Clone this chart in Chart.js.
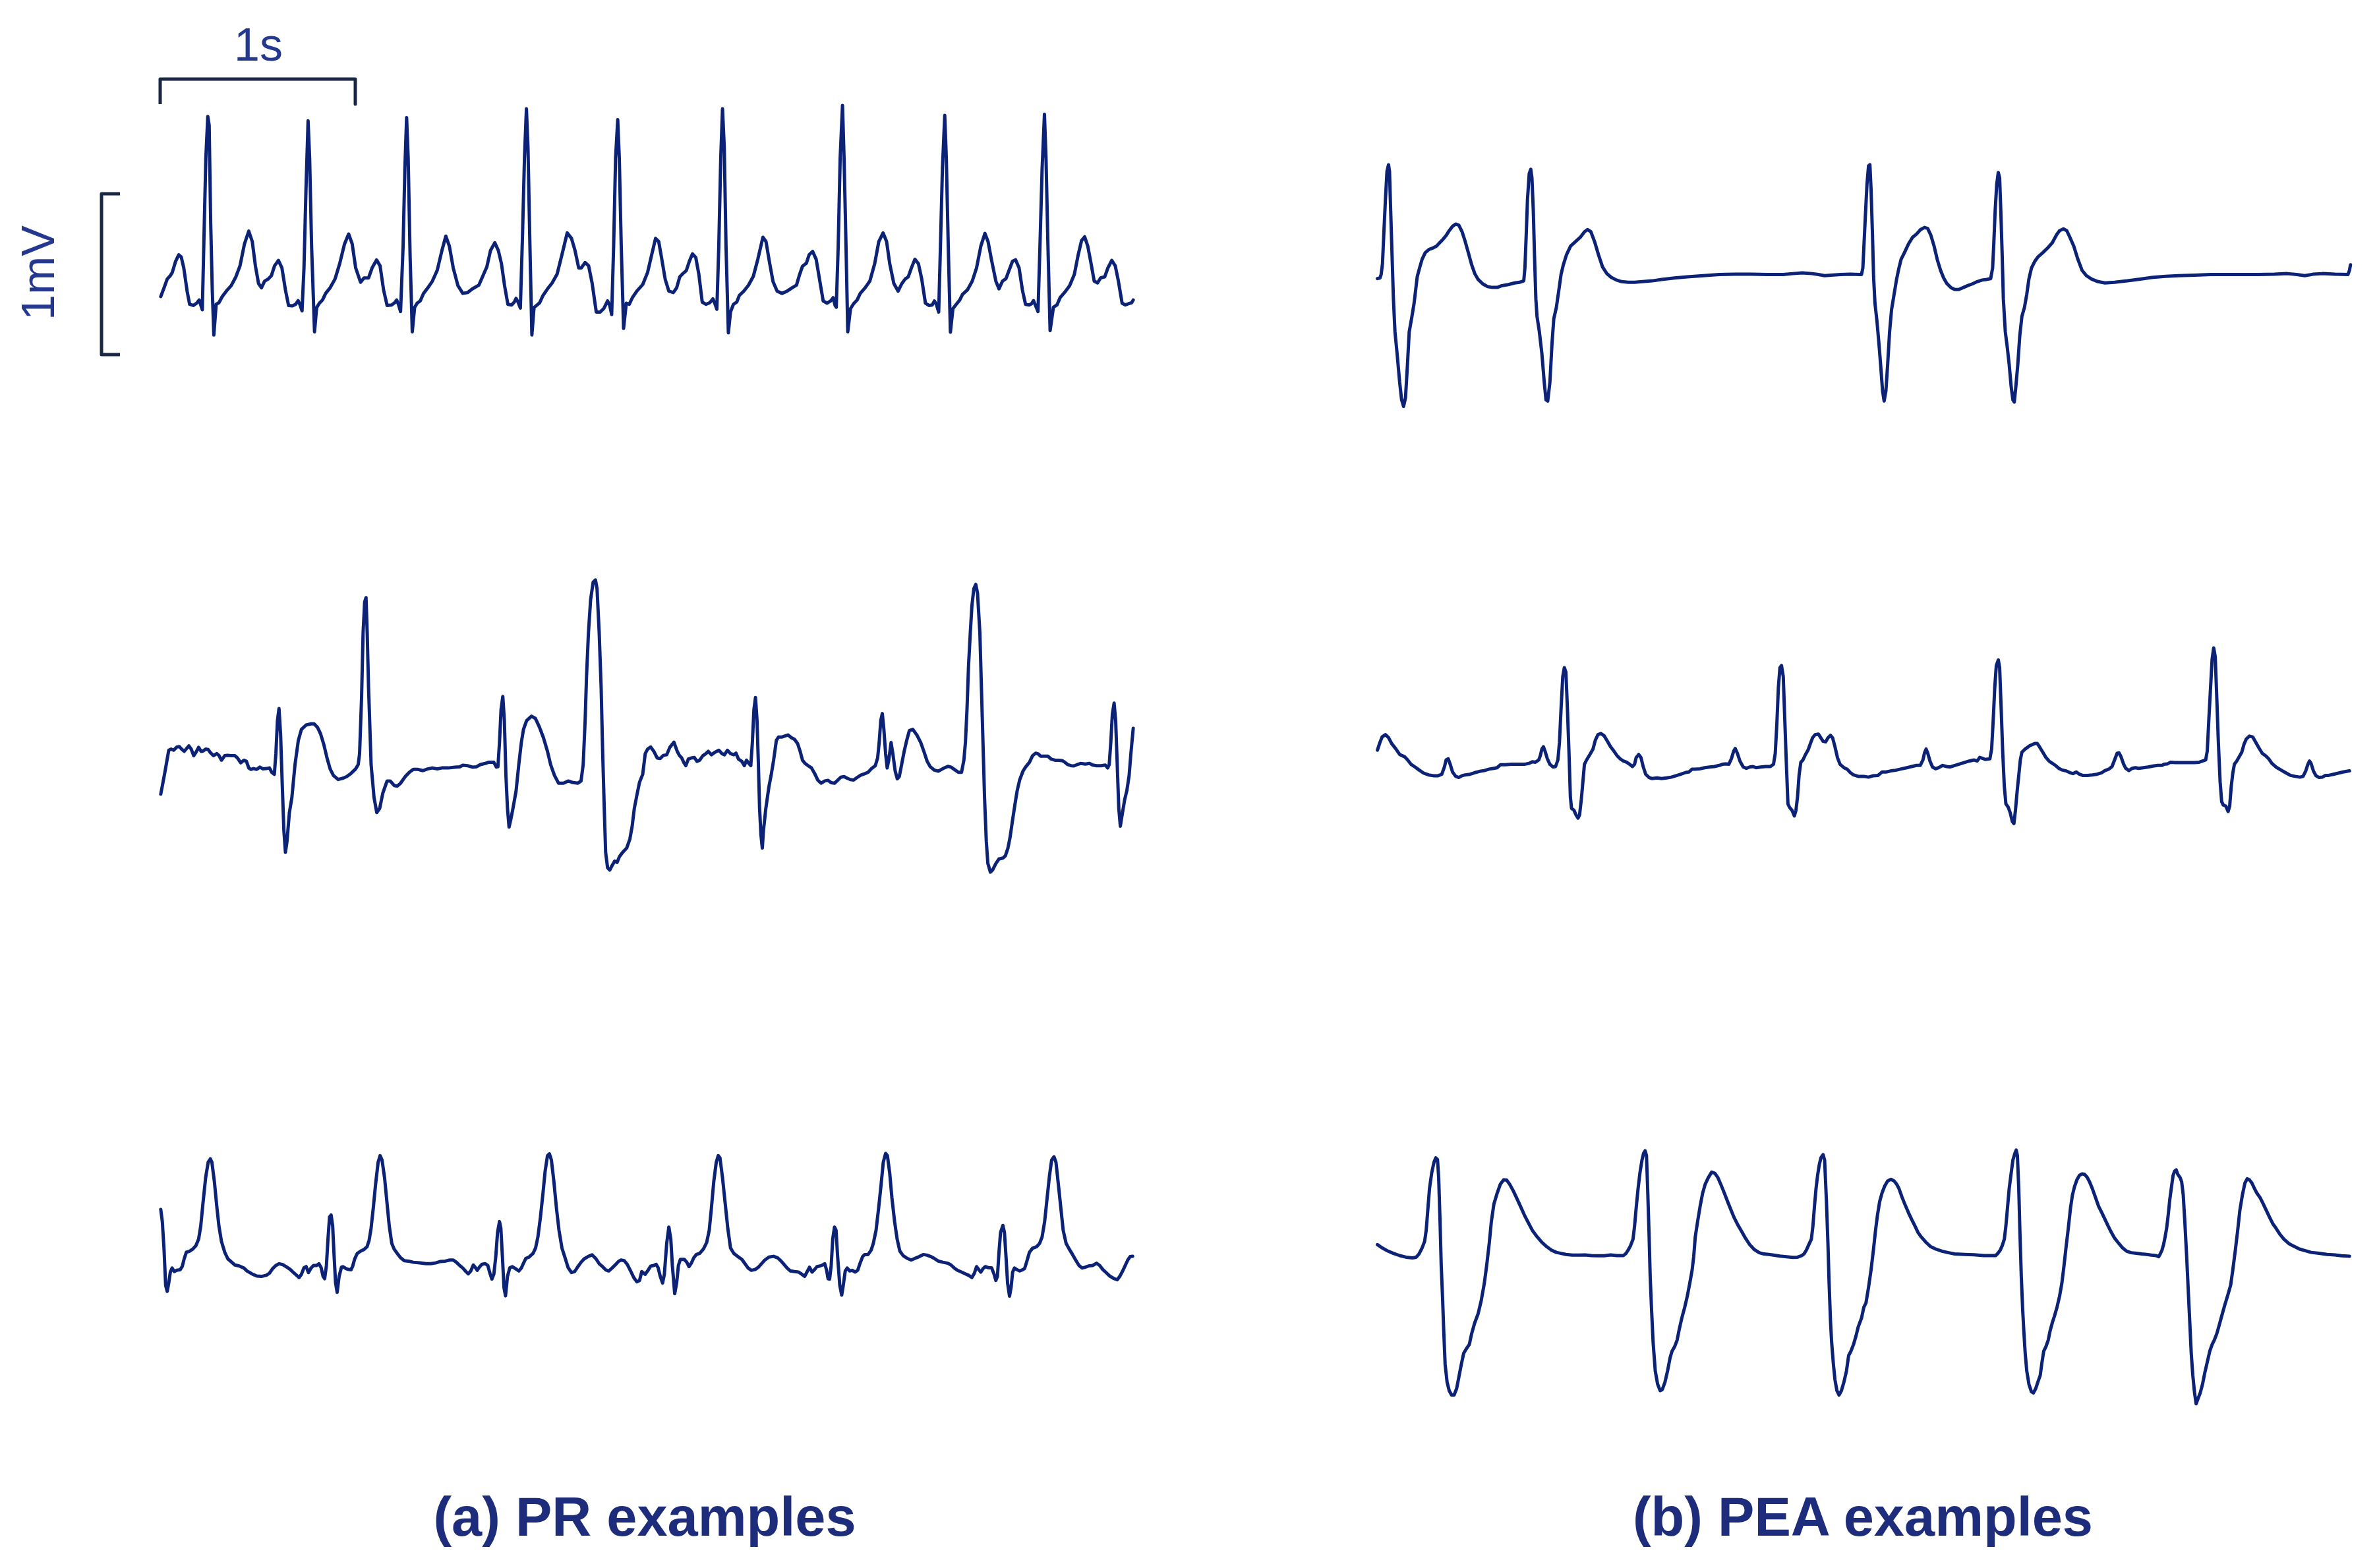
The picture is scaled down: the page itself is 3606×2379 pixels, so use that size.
<!DOCTYPE html>
<html>
<head>
<meta charset="utf-8">
<script src="https://cdn.jsdelivr.net/npm/chart.js@4.4.1/dist/chart.umd.min.js"></script>
<style>
  html, body { margin: 0; padding: 0; background: #ffffff; }
  #wrap { position: relative; width: 3606px; height: 2379px; overflow: hidden; background: #fff; }
  #c { position: absolute; left: 0; top: 0; }
  .lbl { position: absolute; font-family: "Liberation Sans", Arial, sans-serif; white-space: nowrap; transform: translate(-50%, -50%); }
  .bar { color: #24388f; font-size: 70px; }
  .title { color: #1d2d7c; font-size: 83px; font-weight: bold; }
</style>
</head>
<body>
<div id="wrap">
  <canvas id="c" width="3606" height="2379" style="width:3606px;height:2379px"></canvas>
  <div class="lbl bar" style="left:392px; top:68px;">1s</div>
  <div class="lbl bar" style="left:58px; top:414px; transform: translate(-50%,-50%) rotate(-90deg);">1mV</div>
  <div class="lbl title" style="left:978px; top:2302px;">(a) PR examples</div>
  <div class="lbl title" style="left:2826px; top:2302px;">(b) PEA examples</div>
</div>
<script>
// ---- Data: [time (s), voltage (mV)] ----
const prTrace1 = [
[0.003,0.041],[0.020,0.096],[0.036,0.150],[0.052,0.171],[0.062,0.191],[0.079,0.260],[0.095,0.301],[0.108,0.287],[0.121,0.219],[0.138,0.075],[0.151,-0.007],[0.170,-0.014],[0.187,0.000],[0.200,0.020],[0.208,-0.011],[0.216,-0.041],[0.226,0.492],[0.234,0.902],[0.244,1.161],[0.251,1.107],[0.259,0.492],[0.267,0.082],[0.275,-0.198],[0.287,-0.007],[0.301,0.003],[0.318,0.041],[0.339,0.075],[0.364,0.109],[0.388,0.164],[0.409,0.232],[0.432,0.369],[0.454,0.448],[0.472,0.383],[0.488,0.232],[0.504,0.123],[0.519,0.096],[0.535,0.137],[0.553,0.150],[0.570,0.171],[0.586,0.232],[0.606,0.266],[0.624,0.219],[0.642,0.082],[0.658,-0.014],[0.678,-0.016],[0.694,-0.007],[0.707,0.016],[0.717,-0.011],[0.727,-0.048],
[0.737,0.219],[0.747,0.697],[0.758,1.134],[0.766,0.902],[0.776,0.355],[0.791,-0.178],[0.802,-0.027],[0.816,0.000],[0.832,0.020],[0.848,0.061],[0.871,0.096],[0.896,0.150],[0.920,0.246],[0.945,0.369],[0.966,0.430],[0.984,0.369],[1.002,0.219],[1.027,0.130],[1.045,0.157],[1.068,0.157],[1.086,0.219],[1.109,0.269],[1.127,0.232],[1.145,0.082],[1.163,-0.014],[1.186,-0.011],[1.202,0.003],[1.212,0.020],[1.222,-0.011],[1.232,-0.052],
[1.245,0.355],[1.254,0.833],[1.263,1.154],[1.271,0.902],[1.281,0.287],[1.292,-0.178],[1.304,-0.027],[1.317,0.000],[1.333,0.014],[1.350,0.061],[1.372,0.096],[1.395,0.137],[1.420,0.205],[1.444,0.328],[1.464,0.417],[1.482,0.355],[1.502,0.219],[1.526,0.109],[1.551,0.061],[1.575,0.066],[1.600,0.089],[1.633,0.112],[1.657,0.178],[1.674,0.225],[1.693,0.328],[1.715,0.376],[1.733,0.328],[1.749,0.246],[1.765,0.109],[1.782,-0.007],[1.801,-0.011],[1.815,0.007],[1.824,0.030],[1.834,0.007],[1.846,-0.030],
[1.857,0.423],[1.867,0.902],[1.877,1.209],[1.885,0.970],[1.895,0.355],[1.905,-0.198],[1.916,-0.027],[1.929,-0.014],[1.945,0.003],[1.962,0.048],[1.985,0.089],[2.009,0.126],[2.034,0.180],[2.059,0.301],[2.086,0.437],[2.108,0.403],[2.126,0.328],[2.145,0.219],[2.158,0.219],[2.178,0.253],[2.196,0.232],[2.214,0.123],[2.235,-0.055],[2.255,-0.055],[2.273,-0.034],[2.293,0.014],[2.304,-0.014],[2.314,-0.071],
[2.324,0.355],[2.334,0.902],[2.345,1.141],[2.353,0.902],[2.363,0.355],[2.375,-0.157],[2.389,0.000],[2.404,-0.007],[2.420,0.034],[2.443,0.075],[2.468,0.109],[2.473,0.116],[2.498,0.191],[2.519,0.301],[2.539,0.403],[2.555,0.383],[2.571,0.273],[2.588,0.150],[2.607,0.075],[2.630,0.066],[2.647,0.096],[2.663,0.164],[2.679,0.184],[2.696,0.202],[2.712,0.260],[2.728,0.307],[2.745,0.284],[2.761,0.178],[2.778,0.007],[2.797,-0.007],[2.817,0.003],[2.833,0.027],[2.843,-0.003],[2.853,-0.038],
[2.863,0.355],[2.873,0.902],[2.882,1.209],[2.891,0.970],[2.900,0.355],[2.912,-0.184],[2.923,-0.055],[2.938,-0.007],[2.955,0.007],[2.968,0.048],[2.991,0.075],[3.015,0.112],[3.040,0.167],[3.063,0.273],[3.089,0.410],[3.105,0.383],[3.122,0.260],[3.141,0.134],[3.162,0.075],[3.187,0.061],[3.213,0.075],[3.239,0.096],[3.261,0.112],[3.277,0.178],[3.292,0.230],[3.312,0.249],[3.326,0.301],[3.344,0.322],[3.362,0.273],[3.379,0.150],[3.398,0.014],[3.418,0.000],[3.438,0.016],[3.449,0.034],[3.459,-0.014],[3.465,-0.025],
[3.475,0.355],[3.485,0.902],[3.497,1.230],[3.505,0.902],[3.515,0.355],[3.524,-0.178],[3.538,-0.034],[3.554,-0.003],[3.572,0.020],[3.588,0.061],[3.613,0.096],[3.637,0.137],[3.662,0.246],[3.683,0.383],[3.705,0.437],[3.723,0.383],[3.739,0.246],[3.760,0.123],[3.782,0.075],[3.800,0.120],[3.818,0.150],[3.834,0.164],[3.850,0.219],[3.868,0.273],[3.886,0.246],[3.903,0.150],[3.922,0.000],[3.940,-0.014],[3.957,-0.011],[3.968,0.014],[3.978,-0.007],[3.990,-0.055],
[3.999,0.355],[4.009,0.833],[4.021,1.168],[4.029,0.902],[4.039,0.355],[4.050,-0.180],[4.063,-0.034],[4.080,-0.007],[4.098,0.020],[4.112,0.055],[4.137,0.082],[4.162,0.137],[4.184,0.219],[4.206,0.355],[4.227,0.434],[4.243,0.383],[4.260,0.273],[4.283,0.137],[4.299,0.089],[4.317,0.137],[4.335,0.153],[4.351,0.205],[4.368,0.260],[4.384,0.270],[4.402,0.219],[4.419,0.082],[4.435,-0.007],[4.455,-0.011],[4.466,-0.003],[4.476,0.016],[4.486,-0.014],[4.499,-0.052],
[4.509,0.355],[4.520,0.833],[4.532,1.175],[4.540,0.902],[4.550,0.355],[4.561,-0.171],[4.578,-0.025],[4.596,-0.011],[4.612,0.034],[4.636,0.068],[4.661,0.109],[4.685,0.178],[4.705,0.301],[4.722,0.389],[4.738,0.413],[4.754,0.355],[4.771,0.246],[4.787,0.137],[4.804,0.126],[4.820,0.157],[4.841,0.164],[4.857,0.219],[4.877,0.266],[4.895,0.232],[4.911,0.137],[4.930,0.000],[4.946,-0.011],[4.964,-0.003],[4.979,0.003],[4.987,0.020]
];

const prTrace2 = [
[0.003,-0.143],[0.023,-0.014],[0.044,0.130],[0.056,0.137],[0.069,0.130],[0.085,0.150],[0.098,0.153],[0.110,0.137],[0.123,0.123],[0.134,0.139],[0.147,0.157],[0.159,0.137],[0.172,0.096],[0.183,0.116],[0.197,0.148],[0.210,0.123],[0.221,0.126],[0.233,0.137],[0.246,0.134],[0.257,0.116],[0.273,0.096],[0.290,0.109],[0.301,0.098],[0.314,0.068],[0.331,0.096],[0.344,0.098],[0.364,0.096],[0.383,0.096],[0.396,0.082],[0.413,0.052],[0.429,0.068],[0.442,0.061],[0.454,0.020],[0.465,0.011],[0.478,0.016],[0.495,0.011],[0.511,0.025],[0.527,0.014],[0.544,0.016],[0.560,0.020],[0.572,-0.007],[0.585,-0.020],
[0.593,0.109],[0.601,0.314],[0.609,0.389],[0.617,0.232],[0.626,-0.096],[0.634,-0.369],[0.642,-0.505],[0.650,-0.437],[0.662,-0.260],[0.675,-0.164],[0.691,0.041],[0.708,0.191],[0.724,0.260],[0.748,0.287],[0.773,0.294],[0.789,0.294],[0.806,0.273],[0.822,0.232],[0.839,0.164],[0.855,0.082],[0.871,0.014],[0.888,-0.027],[0.912,-0.052],[0.937,-0.044],[0.956,-0.034],[0.978,-0.014],[1.002,0.014],[1.015,0.041],
[1.022,0.109],[1.032,0.451],[1.040,0.861],[1.048,1.052],[1.055,1.079],[1.061,0.861],[1.068,0.519],[1.081,0.041],[1.096,-0.164],[1.110,-0.257],[1.125,-0.232],[1.141,-0.137],[1.163,-0.061],[1.179,-0.061],[1.199,-0.089],[1.215,-0.093],[1.232,-0.075],[1.256,-0.034],[1.277,-0.007],[1.297,0.011],[1.322,0.011],[1.346,0.003],[1.371,0.014],[1.395,0.020],[1.420,0.014],[1.444,0.020],[1.477,0.020],[1.510,0.025],[1.535,0.027],[1.551,0.037],[1.575,0.034],[1.600,0.025],[1.621,0.027],[1.641,0.041],[1.666,0.048],[1.682,0.055],[1.710,0.055],[1.723,0.025],[1.731,0.027],
[1.739,0.178],[1.747,0.383],[1.756,0.464],[1.764,0.314],[1.772,-0.027],[1.780,-0.232],[1.788,-0.348],[1.797,-0.301],[1.808,-0.232],[1.824,-0.123],[1.838,0.041],[1.851,0.178],[1.862,0.260],[1.878,0.314],[1.903,0.342],[1.923,0.328],[1.944,0.273],[1.965,0.205],[1.985,0.123],[2.001,0.041],[2.021,-0.027],[2.042,-0.075],[2.067,-0.075],[2.091,-0.061],[2.116,-0.071],[2.141,-0.075],[2.157,-0.061],
[2.168,0.041],[2.178,0.314],[2.185,0.587],[2.195,0.861],[2.206,1.066],[2.219,1.175],[2.231,1.189],[2.239,1.134],[2.250,0.861],[2.260,0.519],[2.268,0.109],[2.276,-0.232],[2.283,-0.505],[2.293,-0.601],[2.304,-0.615],[2.316,-0.587],[2.329,-0.560],[2.342,-0.567],[2.353,-0.533],[2.370,-0.505],[2.391,-0.478],[2.407,-0.423],[2.419,-0.342],[2.430,-0.232],[2.443,-0.150],[2.457,-0.068],[2.473,-0.020],[2.486,0.109],[2.498,0.137],[2.514,0.150],[2.530,0.123],[2.547,0.082],[2.563,0.079],[2.579,0.098],[2.596,0.102],[2.612,0.148],[2.633,0.180],[2.650,0.123],[2.661,0.098],[2.673,0.082],[2.683,0.055],[2.694,0.034],[2.707,0.075],[2.722,0.082],[2.738,0.085],[2.751,0.061],[2.765,0.068],[2.781,0.096],[2.797,0.109],[2.809,0.123],[2.825,0.102],[2.841,0.116],[2.863,0.130],[2.879,0.109],[2.892,0.102],[2.907,0.130],[2.923,0.109],[2.940,0.102],[2.951,0.112],[2.964,0.075],[2.981,0.061],[2.994,0.034],[3.005,0.068],[3.017,0.048],[3.027,0.034],
[3.035,0.178],[3.043,0.383],[3.051,0.458],[3.059,0.314],[3.066,0.041],[3.072,-0.232],[3.079,-0.396],[3.086,-0.478],[3.092,-0.369],[3.104,-0.232],[3.120,-0.096],[3.131,-0.027],[3.144,0.068],[3.158,0.191],[3.169,0.212],[3.185,0.212],[3.202,0.219],[3.218,0.225],[3.235,0.208],[3.251,0.198],[3.267,0.171],[3.280,0.123],[3.292,0.068],[3.305,0.048],[3.321,0.034],[3.338,0.020],[3.354,-0.014],[3.370,-0.055],[3.387,-0.075],[3.406,-0.061],[3.423,-0.057],[3.439,-0.072],[3.456,-0.075],[3.472,-0.057],[3.488,-0.038],[3.505,-0.034],[3.521,-0.044],[3.537,-0.052],[3.554,-0.055],[3.570,-0.041],[3.590,-0.025],[3.611,-0.016],[3.628,-0.007],[3.644,0.014],[3.665,0.034],
[3.677,0.082],[3.685,0.178],[3.693,0.314],[3.701,0.358],[3.709,0.260],[3.718,0.109],[3.726,0.020],[3.734,0.068],[3.746,0.178],[3.755,0.109],[3.767,0.000],[3.778,-0.048],[3.788,-0.034],[3.800,0.041],[3.813,0.123],[3.826,0.191],[3.840,0.253],[3.857,0.260],[3.878,0.225],[3.898,0.178],[3.914,0.123],[3.931,0.061],[3.947,0.027],[3.967,0.007],[3.988,0.000],[4.012,0.016],[4.037,0.030],[4.053,0.025],[4.070,0.011],[4.091,-0.007],[4.107,-0.007],
[4.119,0.068],[4.127,0.178],[4.135,0.383],[4.143,0.656],[4.152,0.861],[4.160,1.025],[4.170,1.134],[4.180,1.161],[4.189,1.107],[4.201,0.861],[4.209,0.519],[4.217,0.178],[4.225,-0.164],[4.234,-0.437],[4.242,-0.574],[4.255,-0.628],[4.266,-0.615],[4.283,-0.574],[4.299,-0.546],[4.320,-0.540],[4.332,-0.526],[4.345,-0.478],[4.356,-0.410],[4.369,-0.301],[4.381,-0.205],[4.392,-0.123],[4.405,-0.055],[4.422,0.000],[4.435,0.025],[4.455,0.055],[4.471,0.096],[4.487,0.112],[4.500,0.107],[4.512,0.093],[4.533,0.093],[4.550,0.093],[4.566,0.075],[4.586,0.068],[4.602,0.068],[4.622,0.066],[4.635,0.057],[4.651,0.041],[4.668,0.034],[4.684,0.033],[4.700,0.041],[4.717,0.048],[4.741,0.044],[4.763,0.048],[4.779,0.038],[4.799,0.034],[4.823,0.034],[4.844,0.038],[4.856,0.020],[4.864,0.041],
[4.872,0.178],[4.880,0.355],[4.889,0.423],[4.897,0.314],[4.905,0.041],[4.913,-0.232],[4.921,-0.342],[4.930,-0.273],[4.943,-0.178],[4.954,-0.123],[4.966,-0.027],[4.975,0.109],[4.987,0.266]
];

const prTrace3 = [
[0.003,0.348],[0.011,0.273],[0.020,0.096],[0.028,-0.123],[0.036,-0.161],[0.044,-0.109],[0.052,-0.041],[0.061,-0.016],[0.072,-0.038],[0.085,-0.030],[0.102,-0.027],[0.113,-0.007],[0.123,0.041],[0.134,0.082],[0.151,0.089],[0.167,0.102],[0.183,0.123],[0.197,0.164],[0.208,0.246],[0.219,0.383],[0.233,0.546],[0.246,0.642],[0.257,0.663],[0.265,0.642],[0.278,0.519],[0.290,0.369],[0.301,0.246],[0.314,0.150],[0.331,0.082],[0.347,0.041],[0.367,0.020],[0.383,0.003],[0.405,-0.003],[0.429,-0.016],[0.445,-0.034],[0.470,-0.052],[0.495,-0.066],[0.519,-0.068],[0.544,-0.061],[0.560,-0.048],[0.576,-0.020],[0.593,0.000],[0.609,0.011],[0.629,0.005],[0.650,-0.011],[0.667,-0.025],[0.683,-0.044],[0.699,-0.061],[0.712,-0.075],[0.724,-0.055],[0.737,-0.014],[0.748,-0.007],[0.760,-0.044],[0.773,-0.016],[0.786,0.000],[0.802,0.000],[0.814,0.011],[0.825,-0.014],[0.835,-0.068],[0.843,-0.082],
[0.852,0.000],[0.860,0.164],[0.868,0.301],[0.876,0.314],[0.884,0.246],[0.891,0.068],[0.899,-0.109],[0.907,-0.167],[0.917,-0.068],[0.929,-0.011],[0.937,-0.007],[0.953,-0.020],[0.966,-0.025],[0.978,-0.027],[0.986,-0.007],[0.997,0.041],[1.010,0.075],[1.027,0.089],[1.043,0.098],[1.060,0.116],[1.071,0.157],[1.081,0.232],[1.092,0.355],[1.104,0.505],[1.117,0.642],[1.127,0.683],[1.137,0.656],[1.150,0.546],[1.163,0.383],[1.174,0.246],[1.187,0.137],[1.199,0.102],[1.215,0.075],[1.232,0.048],[1.251,0.030],[1.273,0.027],[1.297,0.020],[1.330,0.016],[1.363,0.011],[1.387,0.011],[1.412,0.016],[1.436,0.025],[1.461,0.027],[1.485,0.034],[1.502,0.034],[1.518,0.020],[1.535,0.000],[1.551,-0.016],[1.567,-0.038],[1.579,-0.052],[1.592,-0.034],[1.605,0.003],[1.616,-0.014],[1.625,-0.030],[1.638,-0.007],[1.649,0.007],[1.666,0.011],[1.679,0.000],[1.690,-0.048],[1.700,-0.085],[1.710,-0.055],
[1.720,0.055],[1.729,0.205],[1.739,0.273],[1.746,0.232],[1.754,0.055],[1.762,-0.137],[1.770,-0.189],[1.780,-0.068],[1.792,-0.014],[1.805,-0.007],[1.821,-0.020],[1.838,-0.034],[1.851,-0.016],[1.862,0.014],[1.874,0.044],[1.890,0.052],[1.911,0.075],[1.924,0.109],[1.936,0.178],[1.949,0.301],[1.962,0.451],[1.973,0.587],[1.985,0.683],[1.995,0.694],[2.005,0.656],[2.018,0.519],[2.031,0.355],[2.044,0.219],[2.059,0.109],[2.075,0.048],[2.091,-0.014],[2.108,-0.044],[2.124,-0.038],[2.141,-0.007],[2.157,0.020],[2.173,0.041],[2.195,0.057],[2.214,0.066],[2.234,0.041],[2.250,0.011],[2.267,-0.007],[2.283,-0.027],[2.299,-0.034],[2.316,-0.016],[2.332,0.003],[2.349,0.025],[2.362,0.034],[2.378,0.030],[2.394,0.007],[2.411,-0.034],[2.427,-0.075],[2.443,-0.102],[2.457,-0.093],[2.468,-0.038],[2.486,-0.055],[2.498,-0.034],[2.514,-0.004],[2.530,0.000],[2.542,0.007],[2.552,-0.014],[2.563,-0.068],[2.575,-0.109],[2.584,-0.055],
[2.596,0.137],[2.607,0.239],[2.617,0.164],[2.625,0.000],[2.637,-0.175],[2.647,-0.109],[2.656,0.000],[2.666,0.038],[2.686,0.038],[2.699,0.020],[2.710,-0.007],[2.722,0.014],[2.735,0.048],[2.748,0.068],[2.765,0.075],[2.784,0.102],[2.801,0.143],[2.814,0.219],[2.825,0.355],[2.837,0.519],[2.850,0.642],[2.860,0.683],[2.869,0.669],[2.882,0.546],[2.896,0.383],[2.909,0.232],[2.923,0.109],[2.940,0.075],[2.961,0.055],[2.981,0.038],[2.997,0.011],[3.013,-0.016],[3.030,-0.030],[3.049,-0.025],[3.066,-0.011],[3.082,0.011],[3.099,0.034],[3.120,0.052],[3.144,0.057],[3.164,0.048],[3.180,0.030],[3.197,0.007],[3.213,-0.016],[3.230,-0.034],[3.251,-0.038],[3.272,-0.041],[3.289,-0.055],[3.303,-0.068],[3.316,-0.038],[3.328,-0.011],[3.341,-0.041],[3.354,-0.025],[3.366,-0.007],[3.382,-0.003],[3.395,0.003],[3.406,0.011],[3.415,-0.027],[3.423,-0.082],[3.431,-0.085],
[3.439,0.000],[3.447,0.164],[3.456,0.239],[3.464,0.219],[3.472,0.055],[3.483,-0.123],[3.493,-0.184],[3.501,-0.123],[3.511,-0.034],[3.521,-0.016],[3.534,-0.034],[3.547,-0.030],[3.562,-0.041],[3.575,-0.030],[3.587,0.014],[3.600,0.055],[3.611,0.068],[3.628,0.068],[3.644,0.096],[3.655,0.137],[3.669,0.219],[3.682,0.355],[3.695,0.505],[3.706,0.642],[3.718,0.697],[3.727,0.683],[3.739,0.574],[3.750,0.423],[3.764,0.273],[3.777,0.164],[3.791,0.089],[3.808,0.061],[3.829,0.044],[3.849,0.034],[3.868,0.044],[3.890,0.055],[3.911,0.068],[3.931,0.064],[3.950,0.055],[3.967,0.044],[3.988,0.027],[4.012,0.020],[4.037,0.014],[4.053,0.003],[4.070,-0.016],[4.086,-0.030],[4.107,-0.041],[4.127,-0.052],[4.143,-0.061],[4.160,-0.075],[4.173,-0.048],[4.184,-0.007],[4.196,-0.027],[4.206,-0.041],[4.217,-0.020],[4.229,-0.007],[4.245,-0.014],[4.261,-0.014],[4.274,-0.055],[4.283,-0.093],[4.291,-0.068],
[4.299,0.082],[4.307,0.205],[4.319,0.249],[4.327,0.205],[4.335,0.055],[4.343,-0.109],[4.353,-0.191],[4.361,-0.137],[4.369,-0.041],[4.378,-0.016],[4.392,-0.027],[4.405,-0.034],[4.419,-0.027],[4.430,-0.020],[4.442,0.027],[4.455,0.082],[4.471,0.107],[4.491,0.116],[4.507,0.137],[4.520,0.178],[4.533,0.273],[4.546,0.423],[4.558,0.560],[4.569,0.656],[4.581,0.676],[4.591,0.642],[4.602,0.519],[4.615,0.369],[4.628,0.219],[4.643,0.137],[4.659,0.102],[4.676,0.068],[4.692,0.034],[4.709,0.000],[4.725,-0.016],[4.741,-0.011],[4.758,-0.003],[4.779,0.000],[4.799,0.014],[4.815,0.000],[4.831,-0.025],[4.848,-0.044],[4.867,-0.066],[4.889,-0.082],[4.905,-0.089],[4.918,-0.068],[4.933,-0.034],[4.946,0.000],[4.959,0.034],[4.971,0.055],[4.984,0.057]
];

const peaTrace1 = [
[0.002,-0.011],[0.015,-0.007],[0.021,0.014],[0.028,0.082],[0.034,0.246],[0.043,0.478],[0.051,0.656],[0.059,0.697],[0.064,0.656],[0.070,0.410],[0.077,0.137],[0.084,-0.137],[0.092,-0.342],[0.103,-0.478],[0.116,-0.656],[0.126,-0.765],[0.136,-0.806],[0.146,-0.751],[0.156,-0.546],[0.165,-0.342],[0.179,-0.246],[0.190,-0.164],[0.198,-0.082],[0.206,0.000],[0.218,0.055],[0.231,0.109],[0.247,0.150],[0.267,0.171],[0.288,0.180],[0.305,0.191],[0.321,0.212],[0.337,0.232],[0.354,0.257],[0.370,0.287],[0.387,0.314],[0.403,0.328],[0.419,0.321],[0.436,0.280],[0.452,0.219],[0.468,0.150],[0.485,0.075],[0.501,0.020],[0.518,-0.016],[0.542,-0.044],[0.567,-0.061],[0.591,-0.066],[0.616,-0.066],[0.640,-0.055],[0.673,-0.048],[0.706,-0.038],[0.730,-0.034],[0.752,-0.025],
[0.758,0.055],[0.765,0.273],[0.771,0.478],[0.780,0.642],[0.788,0.669],[0.794,0.615],[0.801,0.410],[0.807,0.137],[0.814,-0.137],[0.820,-0.246],[0.832,-0.342],[0.845,-0.478],[0.857,-0.656],[0.866,-0.765],[0.875,-0.772],[0.886,-0.656],[0.897,-0.410],[0.906,-0.260],[0.919,-0.191],[0.932,-0.082],[0.943,0.014],[0.955,0.075],[0.971,0.137],[0.992,0.191],[1.017,0.219],[1.042,0.246],[1.063,0.280],[1.079,0.294],[1.096,0.280],[1.115,0.219],[1.135,0.137],[1.156,0.061],[1.178,0.020],[1.200,-0.003],[1.227,-0.020],[1.254,-0.030],[1.287,-0.034],[1.320,-0.034],[1.361,-0.030],[1.410,-0.025],[1.459,-0.016],[1.525,-0.007],[1.590,0.000],[1.672,0.007],[1.754,0.014],[1.836,0.016],[1.918,0.016],[2.000,0.014],[2.082,0.014],[2.131,0.020],[2.180,0.025],[2.229,0.020],[2.262,0.014],[2.294,0.007],[2.327,0.010],[2.376,0.014],[2.426,0.016],[2.475,0.014],
[2.483,0.014],[2.490,0.055],[2.496,0.205],[2.503,0.383],[2.511,0.574],[2.519,0.690],[2.526,0.697],[2.532,0.546],[2.539,0.273],[2.545,0.000],[2.552,-0.164],[2.562,-0.273],[2.572,-0.410],[2.581,-0.546],[2.591,-0.710],[2.599,-0.772],[2.608,-0.710],[2.617,-0.546],[2.627,-0.342],[2.637,-0.205],[2.650,-0.109],[2.663,-0.014],[2.675,0.055],[2.686,0.109],[2.703,0.150],[2.724,0.205],[2.745,0.246],[2.765,0.266],[2.786,0.294],[2.806,0.307],[2.822,0.301],[2.838,0.260],[2.855,0.191],[2.871,0.109],[2.888,0.041],[2.904,-0.007],[2.920,-0.041],[2.942,-0.068],[2.961,-0.079],[2.981,-0.079],[3.002,-0.068],[3.027,-0.055],[3.051,-0.044],[3.076,-0.030],[3.101,-0.020],[3.125,-0.016],[3.145,-0.011],
[3.155,0.055],[3.161,0.205],[3.168,0.410],[3.176,0.574],[3.184,0.649],[3.191,0.615],[3.197,0.410],[3.204,0.137],[3.210,-0.137],[3.220,-0.342],[3.230,-0.437],[3.240,-0.546],[3.250,-0.683],[3.259,-0.765],[3.266,-0.779],[3.274,-0.683],[3.284,-0.546],[3.294,-0.369],[3.305,-0.246],[3.318,-0.191],[3.330,-0.109],[3.341,-0.014],[3.354,0.055],[3.371,0.096],[3.387,0.123],[3.412,0.150],[3.436,0.178],[3.461,0.212],[3.482,0.260],[3.498,0.287],[3.518,0.298],[3.535,0.287],[3.551,0.246],[3.571,0.191],[3.592,0.109],[3.613,0.041],[3.636,0.007],[3.662,-0.014],[3.695,-0.030],[3.731,-0.038],[3.780,-0.034],[3.846,-0.025],[3.911,-0.014],[3.977,-0.003],[4.042,0.003],[4.108,0.007],[4.190,0.010],[4.271,0.014],[4.353,0.014],[4.435,0.014],[4.517,0.014],[4.599,0.016],[4.665,0.020],[4.714,0.014],[4.755,0.007],[4.796,0.016],[4.845,0.020],[4.910,0.016],[4.976,0.014],[4.984,0.041],[4.989,0.075]
];

const peaTrace2 = [
[0.002,0.143],[0.015,0.191],[0.026,0.225],[0.043,0.239],[0.059,0.221],[0.075,0.184],[0.097,0.150],[0.116,0.116],[0.141,0.102],[0.157,0.082],[0.174,0.055],[0.195,0.038],[0.215,0.020],[0.239,0.000],[0.264,-0.011],[0.288,-0.016],[0.313,-0.016],[0.332,-0.007],[0.346,0.041],[0.354,0.082],[0.365,0.089],[0.375,0.055],[0.387,0.007],[0.403,-0.020],[0.419,-0.027],[0.436,-0.016],[0.452,-0.011],[0.477,-0.007],[0.501,0.003],[0.526,0.011],[0.550,0.016],[0.575,0.025],[0.599,0.030],[0.616,0.034],[0.632,0.052],[0.657,0.052],[0.689,0.055],[0.722,0.055],[0.755,0.055],[0.780,0.061],[0.796,0.071],[0.812,0.068],[0.829,0.082],[0.837,0.109],[0.845,0.150],[0.853,0.164],[0.861,0.137],[0.873,0.089],[0.886,0.055],[0.902,0.038],[0.915,0.041],
[0.927,0.082],[0.935,0.191],[0.943,0.396],[0.952,0.601],[0.960,0.656],[0.968,0.628],[0.976,0.396],[0.984,0.123],[0.991,-0.150],[0.997,-0.219],[1.009,-0.230],[1.020,-0.260],[1.030,-0.280],[1.038,-0.260],[1.047,-0.164],[1.055,-0.055],[1.063,0.055],[1.074,0.082],[1.091,0.116],[1.107,0.150],[1.119,0.205],[1.132,0.239],[1.148,0.246],[1.164,0.232],[1.181,0.198],[1.197,0.164],[1.214,0.137],[1.230,0.109],[1.246,0.089],[1.263,0.075],[1.279,0.068],[1.295,0.055],[1.309,0.041],[1.320,0.055],[1.328,0.096],[1.341,0.116],[1.353,0.096],[1.364,0.041],[1.377,-0.007],[1.394,-0.027],[1.410,-0.034],[1.435,-0.030],[1.459,-0.034],[1.484,-0.030],[1.508,-0.025],[1.533,-0.016],[1.557,-0.007],[1.582,0.004],[1.598,0.007],[1.615,0.025],[1.631,0.025],[1.656,0.027],[1.680,0.034],[1.705,0.038],[1.729,0.041],[1.754,0.048],[1.770,0.055],[1.787,0.057],[1.803,0.055],[1.816,0.089],[1.828,0.137],[1.836,0.153],[1.847,0.123],[1.860,0.075],[1.877,0.038],[1.893,0.030],[1.910,0.038],[1.926,0.041],[1.942,0.034],[1.967,0.038],[1.991,0.041],[2.016,0.041],[2.032,0.055],
[2.041,0.123],[2.049,0.301],[2.057,0.533],[2.065,0.656],[2.073,0.669],[2.082,0.601],[2.090,0.328],[2.098,0.055],[2.106,-0.191],[2.114,-0.212],[2.127,-0.232],[2.139,-0.266],[2.147,-0.232],[2.155,-0.150],[2.163,-0.014],[2.172,0.068],[2.183,0.082],[2.196,0.116],[2.209,0.143],[2.221,0.184],[2.232,0.219],[2.245,0.239],[2.262,0.243],[2.275,0.219],[2.286,0.198],[2.299,0.194],[2.311,0.219],[2.324,0.235],[2.335,0.219],[2.347,0.164],[2.360,0.096],[2.373,0.055],[2.393,0.034],[2.409,0.025],[2.426,0.003],[2.442,-0.011],[2.466,-0.020],[2.495,-0.020],[2.519,-0.025],[2.544,-0.016],[2.568,-0.014],[2.588,0.007],[2.609,0.007],[2.634,0.014],[2.658,0.018],[2.683,0.025],[2.716,0.034],[2.740,0.041],[2.765,0.048],[2.784,0.048],[2.798,0.082],[2.806,0.126],[2.814,0.150],[2.822,0.126],[2.834,0.075],[2.847,0.038],[2.863,0.027],[2.879,0.034],[2.899,0.048],[2.920,0.041],[2.937,0.038],[2.961,0.048],[2.986,0.057],[3.010,0.066],[3.035,0.075],[3.060,0.082],[3.076,0.075],[3.089,0.098],[3.101,0.093],[3.117,0.085],[3.141,0.089],
[3.150,0.150],[3.158,0.328],[3.166,0.533],[3.174,0.669],[3.184,0.704],[3.191,0.656],[3.199,0.396],[3.207,0.123],[3.215,-0.082],[3.223,-0.191],[3.235,-0.212],[3.245,-0.246],[3.256,-0.301],[3.264,-0.314],[3.272,-0.232],[3.281,-0.109],[3.289,-0.014],[3.297,0.082],[3.305,0.130],[3.322,0.150],[3.346,0.171],[3.371,0.184],[3.384,0.184],[3.395,0.164],[3.412,0.130],[3.428,0.098],[3.444,0.075],[3.461,0.061],[3.477,0.048],[3.494,0.030],[3.510,0.020],[3.531,0.014],[3.551,0.003],[3.567,-0.003],[3.584,0.007],[3.600,-0.007],[3.616,-0.014],[3.641,-0.014],[3.666,-0.011],[3.690,-0.007],[3.715,0.003],[3.731,0.016],[3.751,0.025],[3.767,0.041],[3.780,0.082],[3.793,0.123],[3.803,0.126],[3.813,0.102],[3.826,0.057],[3.837,0.030],[3.854,0.016],[3.870,0.030],[3.887,0.034],[3.903,0.030],[3.928,0.034],[3.952,0.038],[3.977,0.044],[4.001,0.048],[4.023,0.048],[4.034,0.055],[4.050,0.057],[4.067,0.068],[4.091,0.066],[4.124,0.066],[4.157,0.066],[4.190,0.066],[4.214,0.068],[4.231,0.075],[4.247,0.082],
[4.255,0.137],[4.263,0.328],[4.272,0.533],[4.280,0.710],[4.288,0.779],[4.296,0.724],[4.304,0.464],[4.312,0.191],[4.321,-0.055],[4.329,-0.178],[4.337,-0.198],[4.350,-0.205],[4.362,-0.239],[4.370,-0.205],[4.378,-0.082],[4.386,0.000],[4.394,0.055],[4.406,0.075],[4.419,0.102],[4.432,0.130],[4.443,0.178],[4.455,0.212],[4.471,0.230],[4.488,0.225],[4.504,0.191],[4.520,0.157],[4.537,0.123],[4.553,0.109],[4.570,0.089],[4.586,0.061],[4.607,0.038],[4.632,0.020],[4.656,0.003],[4.681,-0.014],[4.705,-0.020],[4.730,-0.025],[4.746,-0.020],[4.760,0.014],[4.771,0.055],[4.779,0.075],[4.787,0.061],[4.799,0.014],[4.812,-0.016],[4.828,-0.027],[4.845,-0.025],[4.861,-0.014],[4.877,-0.014],[4.902,-0.007],[4.927,0.000],[4.951,0.007],[4.984,0.014]
];

const peaTrace3 = [
[0.002,0.068],[0.026,0.048],[0.051,0.031],[0.084,0.014],[0.116,0.000],[0.149,-0.010],[0.182,-0.014],[0.201,-0.010],[0.215,0.010],[0.231,0.048],[0.244,0.089],[0.252,0.157],[0.260,0.280],[0.269,0.417],[0.280,0.512],[0.292,0.581],[0.301,0.608],[0.310,0.597],[0.316,0.485],[0.323,0.212],[0.329,-0.061],[0.336,-0.266],[0.342,-0.471],[0.349,-0.676],[0.359,-0.786],[0.370,-0.840],[0.382,-0.867],[0.395,-0.867],[0.408,-0.827],[0.419,-0.758],[0.432,-0.676],[0.444,-0.608],[0.457,-0.581],[0.473,-0.553],[0.485,-0.485],[0.501,-0.417],[0.518,-0.362],[0.534,-0.280],[0.550,-0.171],[0.562,-0.061],[0.575,0.075],[0.586,0.212],[0.599,0.321],[0.616,0.389],[0.632,0.444],[0.649,0.471],[0.665,0.469],[0.681,0.441],[0.698,0.403],[0.714,0.362],[0.735,0.307],[0.755,0.253],[0.775,0.205],[0.796,0.157],[0.821,0.116],[0.845,0.082],[0.870,0.055],[0.894,0.034],[0.919,0.020],[0.943,0.014],[0.968,0.007],[1.001,0.003],[1.033,0.003],[1.066,0.004],[1.099,0.000],[1.132,-0.001],[1.164,-0.001],[1.197,0.004],[1.230,0.000],[1.263,0.000],
[1.276,0.014],[1.287,0.034],[1.299,0.061],[1.312,0.102],[1.320,0.184],[1.328,0.294],[1.338,0.417],[1.348,0.519],[1.358,0.594],[1.366,0.635],[1.374,0.652],[1.381,0.622],[1.387,0.417],[1.394,0.143],[1.400,-0.130],[1.407,-0.335],[1.415,-0.540],[1.426,-0.717],[1.438,-0.799],[1.451,-0.840],[1.462,-0.833],[1.476,-0.786],[1.489,-0.717],[1.502,-0.635],[1.512,-0.594],[1.525,-0.567],[1.538,-0.526],[1.549,-0.458],[1.562,-0.389],[1.577,-0.321],[1.590,-0.253],[1.603,-0.171],[1.615,-0.089],[1.623,-0.007],[1.631,0.116],[1.643,0.212],[1.656,0.307],[1.669,0.389],[1.682,0.444],[1.698,0.485],[1.715,0.519],[1.731,0.512],[1.747,0.485],[1.764,0.437],[1.780,0.389],[1.797,0.335],[1.813,0.287],[1.829,0.239],[1.849,0.191],[1.869,0.150],[1.888,0.109],[1.910,0.068],[1.934,0.037],[1.959,0.018],[1.983,0.010],[2.008,0.007],[2.032,0.003],[2.065,-0.003],[2.098,-0.007],[2.131,-0.011],[2.155,-0.010],[2.177,0.000],[2.188,0.010],[2.199,0.031],[2.213,0.068],[2.226,0.102],
[2.234,0.184],[2.242,0.307],[2.250,0.417],[2.258,0.499],[2.267,0.567],[2.275,0.608],[2.286,0.628],[2.294,0.594],[2.303,0.348],[2.311,0.075],[2.317,-0.171],[2.324,-0.403],[2.330,-0.540],[2.339,-0.676],[2.347,-0.772],[2.357,-0.840],[2.368,-0.867],[2.380,-0.840],[2.393,-0.786],[2.406,-0.717],[2.417,-0.622],[2.429,-0.594],[2.442,-0.553],[2.455,-0.499],[2.466,-0.444],[2.483,-0.389],[2.495,-0.321],[2.506,-0.294],[2.519,-0.198],[2.532,-0.089],[2.544,0.034],[2.555,0.157],[2.565,0.253],[2.576,0.335],[2.588,0.389],[2.601,0.430],[2.617,0.464],[2.634,0.474],[2.650,0.464],[2.663,0.444],[2.675,0.417],[2.691,0.362],[2.707,0.314],[2.724,0.266],[2.740,0.225],[2.757,0.184],[2.773,0.143],[2.789,0.116],[2.814,0.082],[2.838,0.055],[2.863,0.041],[2.896,0.027],[2.929,0.018],[2.961,0.010],[3.010,0.007],[3.060,0.005],[3.109,0.000],[3.141,0.000],[3.171,0.000],
[3.182,0.014],[3.194,0.034],[3.204,0.061],[3.215,0.102],[3.223,0.184],[3.232,0.307],[3.240,0.417],[3.250,0.512],[3.259,0.594],[3.269,0.635],[3.276,0.656],[3.282,0.622],[3.289,0.417],[3.295,0.143],[3.302,-0.130],[3.309,-0.335],[3.315,-0.471],[3.322,-0.608],[3.330,-0.717],[3.341,-0.799],[3.354,-0.847],[3.364,-0.854],[3.376,-0.827],[3.387,-0.786],[3.399,-0.745],[3.408,-0.663],[3.417,-0.594],[3.428,-0.567],[3.440,-0.526],[3.449,-0.471],[3.461,-0.417],[3.472,-0.376],[3.485,-0.321],[3.498,-0.253],[3.510,-0.171],[3.521,-0.061],[3.531,0.048],[3.543,0.171],[3.554,0.294],[3.564,0.376],[3.575,0.430],[3.587,0.471],[3.600,0.499],[3.613,0.508],[3.626,0.505],[3.639,0.488],[3.652,0.458],[3.666,0.417],[3.682,0.362],[3.698,0.307],[3.715,0.266],[3.731,0.225],[3.747,0.184],[3.764,0.143],[3.780,0.109],[3.800,0.078],[3.821,0.048],[3.842,0.027],[3.865,0.018],[3.892,0.014],[3.919,0.010],[3.944,0.007],[3.969,0.003],[3.993,0.000],[4.006,-0.007],
[4.014,0.010],[4.023,0.034],[4.031,0.068],[4.039,0.116],[4.047,0.171],[4.055,0.253],[4.063,0.348],[4.072,0.430],[4.080,0.499],[4.088,0.526],[4.096,0.533],[4.104,0.505],[4.116,0.485],[4.124,0.458],[4.132,0.376],[4.140,0.212],[4.149,0.007],[4.157,-0.198],[4.165,-0.403],[4.173,-0.608],[4.181,-0.745],[4.190,-0.854],[4.198,-0.922],[4.206,-0.895],[4.219,-0.854],[4.231,-0.799],[4.242,-0.731],[4.255,-0.663],[4.268,-0.594],[4.280,-0.553],[4.291,-0.526],[4.304,-0.485],[4.317,-0.430],[4.329,-0.376],[4.345,-0.307],[4.362,-0.239],[4.375,-0.184],[4.386,-0.089],[4.399,0.034],[4.411,0.157],[4.422,0.280],[4.435,0.376],[4.448,0.451],[4.460,0.478],[4.471,0.471],[4.484,0.451],[4.497,0.417],[4.509,0.389],[4.525,0.362],[4.542,0.321],[4.558,0.280],[4.574,0.239],[4.591,0.198],[4.607,0.171],[4.629,0.130],[4.648,0.102],[4.673,0.075],[4.697,0.059],[4.727,0.041],[4.755,0.031],[4.787,0.020],[4.828,0.014],[4.869,0.007],[4.910,0.004],[4.943,-0.001],[4.984,-0.004]
];

// Calibration bars (values): 1 s and 1 mV
const scaleBarSeconds = 1;
const scaleBarMillivolts = 1;

// ---- Layout (pixels of the 3606x2379 figure) ----
const W = 3606, H = 2379;
const PX_PER_S = 296, PX_PER_MV = 244;
const LEFT_X0 = 243, RIGHT_X0 = 2089;
const XMIN = -LEFT_X0 / PX_PER_S, XMAX = XMIN + W / PX_PER_S;
const YMAX = 0, YMIN = -H / PX_PER_MV;

const panels = [
  { data: prTrace1,  x0: LEFT_X0,  y0: 460 },
  { data: prTrace2,  x0: LEFT_X0,  y0: 1170 },
  { data: prTrace3,  x0: LEFT_X0,  y0: 1920 },
  { data: peaTrace1, x0: RIGHT_X0, y0: 420 },
  { data: peaTrace2, x0: RIGHT_X0, y0: 1173 },
  { data: peaTrace3, x0: RIGHT_X0, y0: 1905 }
];

const TRACE_COLOR = '#0c2277';
const BAR_COLOR = '#1a2744';

const datasets = panels.map(p => {
  const dx = (p.x0 - LEFT_X0) / PX_PER_S;
  const dy = -p.y0 / PX_PER_MV;
  return {
    data: p.data.map(([t, v]) => ({ x: t + dx, y: v + dy })),
    showLine: true, borderColor: TRACE_COLOR, borderWidth: 5,
    pointRadius: 0, tension: 0, borderJoinStyle: 'round', borderCapStyle: 'round', fill: false
  };
});

// time calibration bar (horizontal, ticks pointing down)
const tBarY = -120 / PX_PER_MV, tTickY = -158 / PX_PER_MV;
datasets.push({
  data: [{x: 0, y: tTickY}, {x: 0, y: tBarY}, {x: scaleBarSeconds, y: tBarY}, {x: scaleBarSeconds, y: tTickY}],
  showLine: true, borderColor: BAR_COLOR, borderWidth: 5, pointRadius: 0, tension: 0, fill: false
});
// voltage calibration bar (vertical, ticks pointing right)
const vBarX = (154 - LEFT_X0) / PX_PER_S, vTickX = (182 - LEFT_X0) / PX_PER_S;
const vTop = -294 / PX_PER_MV;
datasets.push({
  data: [{x: vTickX, y: vTop}, {x: vBarX, y: vTop}, {x: vBarX, y: vTop - scaleBarMillivolts}, {x: vTickX, y: vTop - scaleBarMillivolts}],
  showLine: true, borderColor: BAR_COLOR, borderWidth: 5, pointRadius: 0, tension: 0, fill: false
});

new Chart(document.getElementById('c'), {
  type: 'scatter',
  data: { datasets },
  options: {
    responsive: false,
    devicePixelRatio: 1,
    animation: false,
    layout: { padding: 0 },
    plugins: { legend: { display: false }, tooltip: { enabled: false }, title: { display: false } },
    scales: {
      x: { type: 'linear', min: XMIN, max: XMAX, display: false },
      y: { type: 'linear', min: YMIN, max: YMAX, display: false }
    },
    elements: { line: { borderJoinStyle: 'round' } }
  }
});
</script>
</body>
</html>
